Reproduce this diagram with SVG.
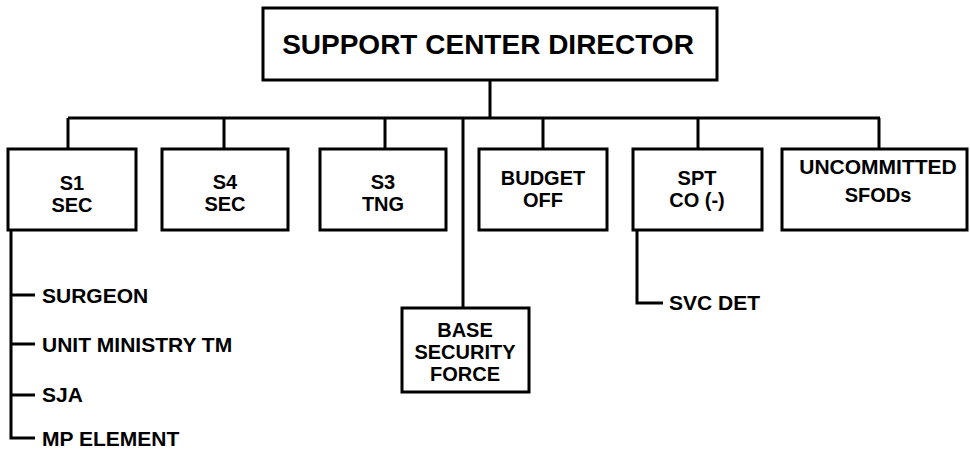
<svg xmlns="http://www.w3.org/2000/svg" width="970" height="450" viewBox="0 0 970 450">
<style>
.box{fill:#fff;stroke:#000;stroke-width:3}
.ln{fill:none;stroke:#000;stroke-width:3}
text{font-family:"Liberation Sans",Arial,sans-serif;font-weight:bold;fill:#000;font-size:21px}
.c{text-anchor:middle;font-size:20px}
.t{font-size:28px}
</style>
<rect width="970" height="450" fill="#fff"/>
<g id="connectors">
<path class="ln" d="M490,80 V118 M68,118 H880 M68,118 V149 M224,118 V149 M385,118 V149 M543,118 V149 M698,118 V149 M879,118 V149"/>
<path class="ln" d="M463,118 V308"/>
<path class="ln" d="M11,230 V438 H35 M11,295 H35 M11,344 H35 M11,395 H35"/>
<path class="ln" d="M637,230 V303 H663"/>
</g>
<g id="director"><rect class="box" x="263" y="8" width="454" height="72"/><text class="t c" x="488" y="54" style="font-size:28px">SUPPORT CENTER DIRECTOR</text></g>
<g id="s1"><rect class="box" x="8" y="149" width="128" height="81"/><text class="c" x="72" y="190">S1</text><text class="c" x="72" y="212">SEC</text></g>
<g id="s4"><rect class="box" x="162" y="149" width="126" height="81"/><text class="c" x="225" y="189">S4</text><text class="c" x="225" y="211">SEC</text></g>
<g id="s3"><rect class="box" x="320" y="149" width="126" height="81"/><text class="c" x="383" y="189">S3</text><text class="c" x="383" y="211">TNG</text></g>
<g id="budget"><rect class="box" x="479" y="149" width="128" height="81"/><text class="c" x="543" y="185">BUDGET</text><text class="c" x="543" y="207">OFF</text></g>
<g id="spt"><rect class="box" x="633" y="149" width="129" height="81"/><text class="c" x="697" y="185">SPT</text><text class="c" x="697" y="207">CO (-)</text></g>
<g id="uncommitted"><rect class="box" x="782" y="149" width="185" height="81"/><text class="c" x="878" y="174" style="font-size:21px">UNCOMMITTED</text><text class="c" x="878" y="202">SFODs</text></g>
<g id="base"><rect class="box" x="402" y="308" width="127" height="84"/><text class="c" x="465" y="337">BASE</text><text class="c" x="465" y="359">SECURITY</text><text class="c" x="465" y="381">FORCE</text></g>
<g id="surgeon"><text x="42" y="303">SURGEON</text></g>
<g id="umt"><text x="42" y="352">UNIT MINISTRY TM</text></g>
<g id="sja"><text x="42" y="402">SJA</text></g>
<g id="mp"><text x="42" y="446">MP ELEMENT</text></g>
<g id="svcdet"><text x="669" y="310">SVC DET</text></g>
</svg>
